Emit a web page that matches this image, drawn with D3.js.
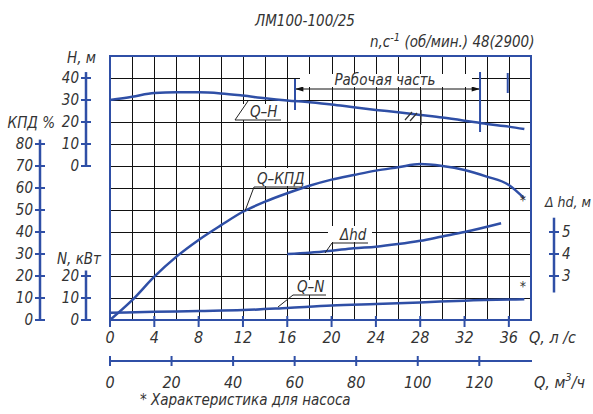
<!DOCTYPE html>
<html>
<head>
<meta charset="utf-8">
<script src="https://cdn.jsdelivr.net/npm/d3@7"></script>
<style>
  body { margin: 0; background: #fff; }
  text { font-family: "Liberation Sans Narrow", "DejaVu Sans Condensed", sans-serif; font-style: italic; fill: #333; }
</style>
</head>
<body>
<div id="canvas"></div>
<script>
// Q, л/с points, one list per curve
const q_h = [0, 2, 4, 6, 8, 10, 12, 14, 16, 18, 20, 22, 24, 26, 28, 30, 32, 34, 36, 37.4];
const head = [30, 31.5, 33.2, 33.5, 33.5, 33, 32, 30.8, 29.8, 29, 28, 26.7, 25.5, 24.4, 23.2, 22, 20.6, 19.1, 17.9, 16.8];

const q_kpd = [0, 2, 4, 6, 8, 10, 12, 14, 16, 18, 20, 22, 24, 26, 28, 30, 32, 34, 36, 37.4];
const kpd = [0, 9, 19.7, 28.8, 36.4, 43, 49.2, 53.8, 57.6, 61, 63.8, 65.9, 67.9, 69.4, 70.9, 70, 68.2, 65.2, 61.4, 55.3];

const q_n = [0, 4, 8, 12, 16, 20, 24, 28, 32, 37.4];
const power = [3.3, 3.7, 4.1, 4.5, 5.5, 6.6, 7.3, 8, 8.8, 9.4];

const q_dh = [16, 18, 20, 22, 24, 26, 28, 30, 32, 35.3];
const dh = [4.0, 4.06, 4.15, 4.26, 4.33, 4.45, 4.6, 4.8, 5.0, 5.4];

// tick labels
const q_ticks = [0, 4, 8, 12, 16, 20, 24, 28, 32, 36];
const qm3_ticks = [0, 20, 40, 60, 80, 100, 120];
const h_ticks = [0, 10, 20, 30, 40];
const kpd_ticks = [0, 10, 20, 30, 40, 50, 60, 70, 80];
const n_ticks = [0, 10, 20];
const dh_ticks = [3, 4, 5];

// working range (Рабочая часть) and the extra marker, л/с
const work_range = [16.7, 33.4];
const extra_mark = 35.9;

const blue = '#2f4fa6';

const svg = d3.select('#canvas')
  .append('svg')
  .attr('width', 593)
  .attr('height', 414);

const x = d3.scaleLinear().domain([0, 38]).range([110, 531]);
const xm3 = d3.scaleLinear().domain([0, 38 * 3.6]).range([110, 531]);
const yK = d3.scaleLinear().domain([0, 120]).range([320, 56]);
const yH = d3.scaleLinear().domain([0, 40]).range([166, 78]);
const yN = d3.scaleLinear().domain([0, 120]).range([320, 56]);
const yD = d3.scaleLinear().domain([3, 5]).range([276, 232]);

// grid
const grid = svg.append('g')
  .attr('stroke', '#111')
  .attr('stroke-width', 1)
  .attr('shape-rendering', 'crispEdges');

grid.selectAll('.gv')
  .data(d3.range(2, 38, 2))
  .join('line')
  .attr('class', 'gv')
  .attr('x1', (d) => Math.round(x(d)) + 0.5).attr('x2', (d) => Math.round(x(d)) + 0.5)
  .attr('y1', yK(0)).attr('y2', yK(120));

grid.selectAll('.gh')
  .data(d3.range(10, 120, 10))
  .join('line')
  .attr('class', 'gh')
  .attr('x1', x(0)).attr('x2', x(38))
  .attr('y1', (d) => Math.round(yK(d)) + 0.5).attr('y2', (d) => Math.round(yK(d)) + 0.5);

// white patches behind labels
const patches = [[300, 74, 172, 13], [232, 104, 52, 16], [252, 168, 52, 18], [328, 226, 44, 16], [290, 280, 38, 15]];
svg.append('g')
  .selectAll('rect')
  .data(patches)
  .join('rect')
  .attr('x', (d) => d[0]).attr('y', (d) => d[1])
  .attr('width', (d) => d[2]).attr('height', (d) => d[3])
  .attr('fill', '#fff');

// frame
svg.append('rect')
  .attr('x', x(0)).attr('y', yK(120))
  .attr('width', x(38) - x(0)).attr('height', yK(0) - yK(120))
  .attr('fill', 'none').attr('stroke', blue).attr('stroke-width', 2);

// vertical axis helper
function vAxis(xpos, scale, values, extent, side) {
  const g = svg.append('g');
  g.append('line')
    .attr('x1', xpos).attr('x2', xpos)
    .attr('y1', scale(extent[0])).attr('y2', scale(extent[1]))
    .attr('stroke', blue).attr('stroke-width', 2.5);
  g.selectAll('.tk')
    .data(values)
    .join('line')
    .attr('class', 'tk')
    .attr('x1', xpos - 5).attr('x2', xpos + 5)
    .attr('y1', (d) => scale(d)).attr('y2', (d) => scale(d))
    .attr('stroke', blue).attr('stroke-width', 2);
  g.selectAll('text')
    .data(values)
    .join('text')
    .attr('x', side === 'left' ? xpos - 7 : xpos + 8)
    .attr('y', (d) => scale(d))
    .attr('dy', '0.35em')
    .attr('text-anchor', side === 'left' ? 'end' : 'start')
    .attr('font-size', 15)
    .text((d) => d);
}

vAxis(86, yH, h_ticks, [0, 42.7], 'left');
vAxis(40, yK, kpd_ticks, [0, 82], 'left');
vAxis(86, yN, n_ticks, [0, 22.5], 'left');
vAxis(554, yD, dh_ticks, [2.25, 5.65], 'right');

// bottom Q, л/с ticks
svg.append('g')
  .selectAll('line')
  .data(q_ticks)
  .join('line')
  .attr('x1', (d) => x(d)).attr('x2', (d) => x(d))
  .attr('y1', 316).attr('y2', 327)
  .attr('stroke', blue).attr('stroke-width', 2);
svg.append('g')
  .selectAll('text')
  .data(q_ticks)
  .join('text')
  .attr('x', (d) => x(d)).attr('y', 343)
  .attr('text-anchor', 'middle')
  .attr('font-size', 16)
  .text((d) => d);

// Q, м3/ч axis
svg.append('line')
  .attr('x1', xm3(0)).attr('x2', x(38) + 1)
  .attr('y1', 361).attr('y2', 361)
  .attr('stroke', blue).attr('stroke-width', 2);
svg.append('g')
  .selectAll('line')
  .data(qm3_ticks)
  .join('line')
  .attr('x1', (d) => xm3(d)).attr('x2', (d) => xm3(d))
  .attr('y1', 356).attr('y2', 366)
  .attr('stroke', blue).attr('stroke-width', 2);
svg.append('g')
  .selectAll('text')
  .data(qm3_ticks)
  .join('text')
  .attr('x', (d) => xm3(d)).attr('y', 388)
  .attr('text-anchor', 'middle')
  .attr('font-size', 16)
  .text((d) => d);

// curves
const curves = [
  [q_h, head, yH],
  [q_kpd, kpd, yK],
  [q_n, power, yN],
  [q_dh, dh, yD],
];
curves.forEach(([qs, vs, scale]) => {
  const line = d3.line()
    .x((d) => x(d[0]))
    .y((d) => scale(d[1]))
    .curve(d3.curveMonotoneX);
  svg.append('path')
    .datum(d3.zip(qs, vs))
    .attr('d', line)
    .attr('fill', 'none')
    .attr('stroke', blue)
    .attr('stroke-width', 2.5);
});

// curve labels with leaders
const labels = [
  { text: 'Q–H', tx: 250, ty: 117, ux: [235, 281], uy: 120, to: [248, 101] },
  { text: 'Q–КПД', tx: 257, ty: 184, ux: [254, 302], uy: 187, to: [245, 211] },
  { text: 'Δhd', tx: 340, ty: 240, ux: [332, 368], uy: 243, to: [325, 253] },
  { text: 'Q–N', tx: 297, ty: 292, ux: [293, 326], uy: 295, to: [278, 307] },
];
labels.forEach((l) => {
  svg.append('path')
    .attr('d', `M${l.to[0]},${l.to[1]}L${l.ux[0]},${l.uy}L${l.ux[1]},${l.uy}`)
    .attr('fill', 'none').attr('stroke', '#222').attr('stroke-width', 1);
  svg.append('text')
    .attr('x', l.tx).attr('y', l.ty)
    .attr('font-size', 15)
    .text(l.text);
});

// working range markers
svg.append('defs').selectAll('marker')
  .data(['s', 'e'])
  .join('marker')
  .attr('id', (d) => 'arr-' + d)
  .attr('viewBox', '0 0 10 6')
  .attr('refX', 10).attr('refY', 3)
  .attr('markerWidth', 12).attr('markerHeight', 5)
  .attr('markerUnits', 'userSpaceOnUse')
  .attr('orient', 'auto-start-reverse')
  .append('path')
  .attr('d', 'M0,0L10,3L0,6Z')
  .attr('fill', '#111');

svg.append('line')
  .attr('x1', x(work_range[0])).attr('x2', x(work_range[1]))
  .attr('y1', 89).attr('y2', 89)
  .attr('stroke', '#111').attr('stroke-width', 1)
  .attr('marker-start', 'url(#arr-s)')
  .attr('marker-end', 'url(#arr-e)');

svg.append('line')
  .attr('x1', x(work_range[0])).attr('x2', x(work_range[0]))
  .attr('y1', 79).attr('y2', 110)
  .attr('stroke', blue).attr('stroke-width', 2);
svg.append('line')
  .attr('x1', x(work_range[1])).attr('x2', x(work_range[1]))
  .attr('y1', 72).attr('y2', 132)
  .attr('stroke', blue).attr('stroke-width', 2);
svg.append('line')
  .attr('x1', x(extra_mark)).attr('x2', x(extra_mark))
  .attr('y1', 73).attr('y2', 93)
  .attr('stroke', blue).attr('stroke-width', 2);

svg.append('text')
  .attr('x', 385).attr('y', 85)
  .attr('text-anchor', 'middle')
  .attr('font-size', 15)
  .text('Рабочая часть');

// hatch mark on Q-H
svg.append('path')
  .attr('d', 'M405,120L412,112M410,121L417,113M421,110L421,125')
  .attr('fill', 'none').attr('stroke', '#333').attr('stroke-width', 1.2);

// asterisks
svg.append('text').attr('x', 523).attr('y', 205).attr('text-anchor', 'middle').attr('font-size', 14).text('*');
svg.append('text').attr('x', 523).attr('y', 291).attr('text-anchor', 'middle').attr('font-size', 14).text('*');

// titles and axis names
svg.append('text').attr('x', 305).attr('y', 26).attr('text-anchor', 'middle').attr('font-size', 15).text('ЛМ100-100/25');
const sub = svg.append('text').attr('x', 370).attr('y', 47).attr('font-size', 15);
sub.append('tspan').text('n,c');
sub.append('tspan').attr('dy', -6).attr('font-size', 11).text('-1');
sub.append('tspan').attr('dy', 6).text(' (об/мин.) 48(2900)');

svg.append('text').attr('x', 67).attr('y', 63).attr('font-size', 15).text('H, м');
svg.append('text').attr('x', 55).attr('y', 128).attr('text-anchor', 'end').attr('font-size', 15).text('КПД %');
svg.append('text').attr('x', 57).attr('y', 264).attr('font-size', 15).text('N, кВт');
svg.append('text').attr('x', 545).attr('y', 207).attr('font-size', 14).attr('fill', '#666').text('Δ hd, м');

svg.append('text').attr('x', 529).attr('y', 343).attr('font-size', 16).text('Q, л /с');
const qm = svg.append('text').attr('x', 534).attr('y', 388).attr('font-size', 16);
qm.append('tspan').text('Q, м');
qm.append('tspan').attr('dy', -7).attr('font-size', 11).text('3');
qm.append('tspan').attr('dy', 7).text('/ч');

svg.append('text').attr('x', 140).attr('y', 405).attr('font-size', 15).text('* Характеристика для насоса');
</script>
</body>
</html>
